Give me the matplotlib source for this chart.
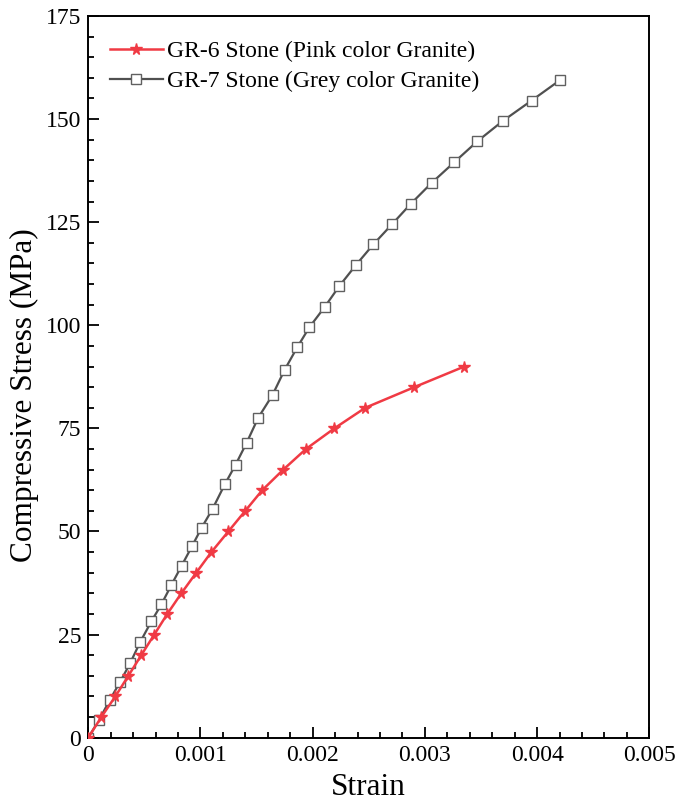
import matplotlib
matplotlib.use("Agg")
import matplotlib.pyplot as plt
from matplotlib.ticker import MultipleLocator

plt.rcParams['font.family'] = ['Liberation Serif', 'DejaVu Serif']

gr6_strain = [0.0, 0.000116, 0.000241, 0.000357, 0.000472, 0.000588, 0.000704, 0.000829,
              0.000962, 0.001097, 0.001248, 0.001399, 0.00155, 0.001738, 0.00194,
              0.002193, 0.002469, 0.002906, 0.003351]
gr6_stress = [0, 5, 10, 15, 20, 25, 30, 35, 40, 45, 50, 55, 60, 65, 70, 75, 80, 85, 90]

gr7_strain = [0.0, 0.000098, 0.000193, 0.000285, 0.000372, 0.000461, 0.000562, 0.000651,
              0.00074, 0.000832, 0.000924, 0.00101, 0.001108, 0.001218, 0.001313,
              0.001411, 0.001515, 0.001642, 0.00175, 0.001863, 0.00197, 0.002106,
              0.002237, 0.002385, 0.00254, 0.002707, 0.002876, 0.003059, 0.00326,
              0.003467, 0.003692, 0.003951, 0.004207]
gr7_stress = [0, 4.4, 9.2, 13.6, 18.0, 23.1, 28.2, 32.3, 37.0, 41.7, 46.4, 50.9, 55.5,
              61.5, 66.2, 71.5, 77.6, 83.1, 89.2, 94.7, 99.5, 104.4, 109.5, 114.6,
              119.6, 124.5, 129.5, 134.5, 139.5, 144.6, 149.5, 154.5, 159.5]

labels = ["GR-6 Stone (Pink color Granite)", "GR-7 Stone (Grey color Granite)"]
xtick_vals = [0, 0.001, 0.002, 0.003, 0.004, 0.005]
xtick_labels = ['0', '0.001', '0.002', '0.003', '0.004', '0.005']

fig = plt.figure(figsize=(6.76, 8.0), dpi=100)
ax = fig.add_axes([0.1306, 0.0779, 0.8299, 0.9021])

ax.plot(gr6_strain, gr6_stress, color='#f03a44', lw=1.8, marker='*', ms=8.5,
        mfc='#f03a44', mec='#f03a44', label=labels[0], zorder=3)
ax.plot(gr7_strain, gr7_stress, color='#505050', lw=1.6, marker='s', ms=6.5,
        mfc='white', mec='#606060', mew=1.0, label=labels[1], zorder=2)

ax.set_xlim(0, 0.005)
ax.set_ylim(0, 175)
ax.set_xticks(xtick_vals)
ax.set_xticklabels(xtick_labels)
ax.xaxis.set_minor_locator(MultipleLocator(0.0002))
ax.yaxis.set_major_locator(MultipleLocator(25))
ax.yaxis.set_minor_locator(MultipleLocator(5))
ax.tick_params(which='both', direction='in', top=False, right=False, labelsize=17, width=1.3)
ax.tick_params(which='major', length=8, pad=5)
ax.tick_params(which='minor', length=4)
for s in ax.spines.values():
    s.set_linewidth(1.4)

ax.set_xlabel('Strain', fontsize=22.5, labelpad=5)
ax.set_ylabel('Compressive Stress (MPa)', fontsize=22.5)
ax.yaxis.set_label_coords(-0.088, 0.474)

ax.legend(loc='upper left', frameon=False, fontsize=17, handlelength=2.25,
          handletextpad=0.2, borderaxespad=0.5, labelspacing=0.35,
          bbox_to_anchor=(0.0, 0.995))

fig.savefig('out.png', dpi=100)
